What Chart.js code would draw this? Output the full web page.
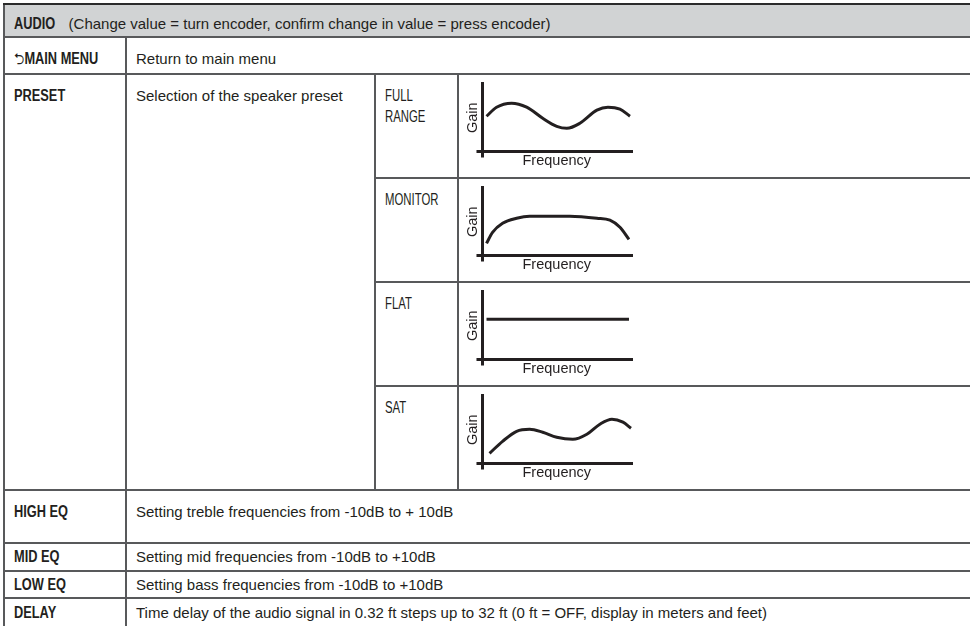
<!DOCTYPE html>
<html>
<head>
<meta charset="utf-8">
<script src="https://cdn.jsdelivr.net/npm/chart.js@4/dist/chart.umd.min.js"></script>
<style>
html, body { margin: 0; padding: 0; background: #fff; width: 970px; height: 626px; overflow: hidden; }
body { font-family: "Liberation Sans", Arial, sans-serif; font-size: 15px; color: #231f20; position: relative; }
table { position: absolute; left: 3px; top: 3px; width: 968px; border-collapse: collapse; table-layout: fixed; }
td { border: 2px solid #58595b; padding: 0 0 0 9px; vertical-align: middle; white-space: nowrap; overflow: hidden; line-height: 18px; }
.bold { display: inline-block; font-weight: bold; font-size: 16px; transform: scaleX(0.8); transform-origin: 0 50%; }
.caps { display: inline-block; font-size: 16px; transform: scaleX(0.71); transform-origin: 0 50%; }
tr.head td { background: #d1d3d4; border-top-color: #2b2b2b; height: 25px; padding-top: 6px; }
tr.menu td { height: 29px; padding-top: 6px; }
tr.preset td { height: 92px; }
td.top { vertical-align: top; padding-top: 10px; line-height: 21px; white-space: normal; }
td.chart { padding: 0; vertical-align: top; height: 102px !important; }
tr.high td { height: 39px; padding-top: 12px; vertical-align: top; }
tr.eq td { height: 26px; }
tr.eq.low td { height: 25px; }
tr.last td { height: 28px; }
.box { position: relative; height: 102px; }
.box canvas { position: absolute; left: 7px; top: 7px; }
.sub { margin-left: 3px; }
.ico { font-family: "DejaVu Sans", sans-serif; font-weight: normal; }
</style>
</head>
<body>
<table>
  <colgroup><col style="width:122px"><col style="width:249px"><col style="width:83px"><col style="width:514px"></colgroup>
  <tr class="head"><td colspan="4"><span class="bold">AUDIO</span><span class="sub">(Change value = turn encoder, confirm change in value = press encoder)</span></td></tr>
  <tr class="menu"><td><span class="bold"><span class="ico">⮌</span>MAIN MENU</span></td><td colspan="3">Return to main menu</td></tr>
  <tr class="preset">
    <td rowspan="4" class="top"><span class="bold">PRESET</span></td>
    <td rowspan="4" class="top">Selection of the speaker preset</td>
    <td class="top"><span class="caps">FULL<br>RANGE</span></td>
    <td class="chart"><div class="box"><canvas id="fullChart" width="170" height="86"></canvas></div></td>
  </tr>
  <tr class="preset"><td class="top"><span class="caps">MONITOR</span></td><td class="chart"><div class="box"><canvas id="monitorChart" width="170" height="86"></canvas></div></td></tr>
  <tr class="preset"><td class="top"><span class="caps">FLAT</span></td><td class="chart"><div class="box"><canvas id="flatChart" width="170" height="86"></canvas></div></td></tr>
  <tr class="preset"><td class="top"><span class="caps">SAT</span></td><td class="chart"><div class="box"><canvas id="satChart" width="170" height="86"></canvas></div></td></tr>
  <tr class="high"><td><span class="bold">HIGH EQ</span></td><td colspan="3">Setting treble frequencies from -10dB to + 10dB</td></tr>
  <tr class="eq"><td><span class="bold">MID EQ</span></td><td colspan="3">Setting mid frequencies from -10dB to +10dB</td></tr>
  <tr class="eq low"><td><span class="bold">LOW EQ</span></td><td colspan="3">Setting bass frequencies from -10dB to +10dB</td></tr>
  <tr class="last"><td><span class="bold">DELAY</span></td><td colspan="3">Time delay of the audio signal in 0.32 ft steps up to 32 ft (0 ft = OFF, display in meters and feet)</td></tr>
</table>

<script>
// curve shapes (frequency along, gain up)
const fullRangeFreq = [4, 14, 29, 44, 60, 74, 84, 97, 114, 125, 137, 147];
const fullRangeGain = [35, 44, 48, 44, 33, 25, 23, 28, 41, 44, 42, 35];
const monitorFreq = [4, 10, 20, 34, 47, 87, 114, 127, 137, 146];
const monitorGain = [12, 23, 32, 37, 39, 39, 37, 35, 28, 16];
const flatFreq = [4, 146];
const flatGain = [40, 40];
const satFreq = [7, 20, 34, 47, 60, 74, 90, 104, 117, 129, 140, 148];
const satGain = [10, 22, 32, 34, 31, 26, 24, 29, 39, 44, 41, 35];

const INK = '#231f20';
const AXIS_TOP = 69;
const AXIS_STUB = -6;

// L shaped axes that cross a little at the origin
const crossAxes = {
    id: 'crossAxes',
    beforeDatasetsDraw(chart) {
        const ctx = chart.ctx;
        const x = chart.scales.x, y = chart.scales.y;
        const x0 = x.getPixelForValue(0);
        const y0 = y.getPixelForValue(0);
        ctx.save();
        ctx.strokeStyle = INK;
        ctx.lineWidth = 3;
        ctx.beginPath();
        ctx.moveTo(x0, y.getPixelForValue(AXIS_TOP));
        ctx.lineTo(x0, y.getPixelForValue(AXIS_STUB));
        ctx.moveTo(x.getPixelForValue(AXIS_STUB), y0);
        ctx.lineTo(x.getPixelForValue(x.max), y0);
        ctx.stroke();
        ctx.restore();
    }
};

function drawPreset(id, freq, gain) {
    const points = freq.map((f, i) => ({ x: f, y: gain[i] }));
    const titleFont = { family: '"Liberation Sans", Arial, sans-serif', size: 14.5, lineHeight: 1 };
    new Chart(document.getElementById(id), {
        type: 'line',
        data: {
            datasets: [{
                data: points,
                borderColor: INK,
                borderWidth: 3,
                pointRadius: 0,
                cubicInterpolationMode: 'monotone',
                fill: false,
                clip: false
            }]
        },
        options: {
            responsive: false,
            animation: false,
            devicePixelRatio: 1,
            layout: { padding: { right: 3 }, autoPadding: false },
            plugins: { legend: { display: false }, tooltip: { enabled: false } },
            scales: {
                x: {
                    type: 'linear', min: -2, max: 150,
                    ticks: { display: false },
                    grid: { display: false, drawTicks: false },
                    border: { display: false },
                    title: { display: true, text: 'Frequency', color: INK, font: titleFont, padding: 0 }
                },
                y: {
                    type: 'linear', min: -2, max: 69,
                    ticks: { display: false },
                    grid: { display: false, drawTicks: false },
                    border: { display: false },
                    title: { display: true, text: 'Gain', color: INK, font: titleFont, padding: 0 }
                }
            }
        },
        plugins: [crossAxes]
    });
}

drawPreset('fullChart', fullRangeFreq, fullRangeGain);
drawPreset('monitorChart', monitorFreq, monitorGain);
drawPreset('flatChart', flatFreq, flatGain);
drawPreset('satChart', satFreq, satGain);
</script>
</body>
</html>
